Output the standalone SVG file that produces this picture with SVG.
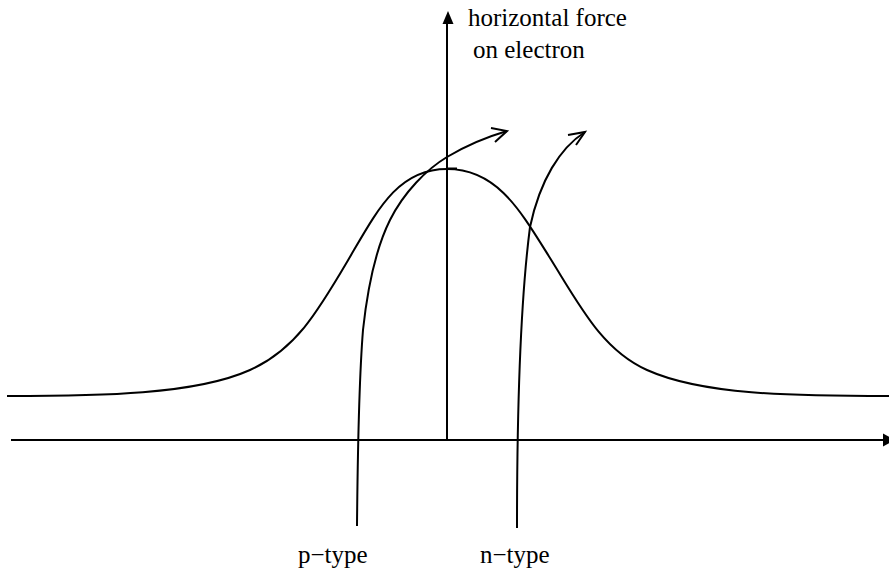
<svg xmlns="http://www.w3.org/2000/svg" width="889" height="572" viewBox="0 0 889 572">
<style>
.ln{fill:none;stroke:#000;stroke-width:2;stroke-linecap:butt;stroke-linejoin:miter}
.ah{fill:#000;stroke:none}
.t{font-family:"Liberation Serif","Times New Roman",serif;font-size:25px;fill:#000}
</style>
<rect width="889" height="572" fill="#fff"/>
<g id="axes">
<line class="ln" x1="447" y1="440" x2="447" y2="22"/>
<polygon class="ah" points="448,11 442.5,24 453.5,24"/>
<line class="ln" x1="11" y1="440" x2="886" y2="440"/>
<polygon class="ah" points="883,433.5 883,446.5 895,440"/>
</g>
<g id="bell">
<path class="ln" d="M7,396 C100,396 195,394.75 250,370 C295,349.75 317,313 347,262 C377,211 397,169 447,169 C497,169 520,210 550,258 C580,306 602,349.75 647,370 C702,394.75 790,396 889,396"/>
<line class="ln" x1="447" y1="168.5" x2="457" y2="168.5"/>
</g>
<g id="connectors">
<path class="ln" d="M357,526 C357.5,470 359,380 363,330 C367,293 375,250 390,220 C404,192 427,169 447,157 C467,145 490,136 507,131"/>
<polyline class="ln" points="491,128 507,131 495,142"/>
<path class="ln" d="M517,528 C517,450 518,320 530,227 C540,180 560,148 585,132"/>
<polyline class="ln" points="568,135 585,132 576,145"/>
</g>
<g id="labels">
<text class="t" x="468" y="26">horizontal force</text>
<text class="t" x="473" y="58">on electron</text>
<text class="t" x="298" y="563">p−type</text>
<text class="t" x="480" y="563">n−type</text>
</g>
</svg>
